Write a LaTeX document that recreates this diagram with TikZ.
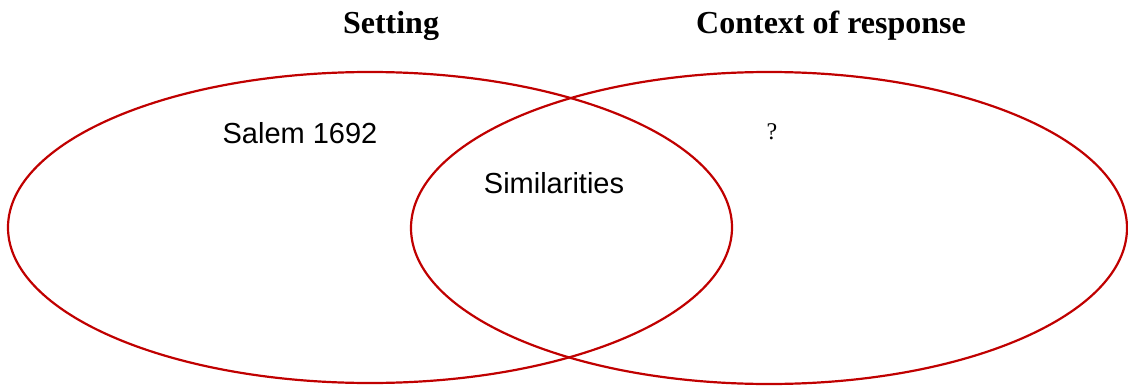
\documentclass[tikz,border=0pt]{standalone}
\usepackage{fontspec}
\setmainfont{Liberation Serif}
\setsansfont{Liberation Sans}
\begin{document}
\begin{tikzpicture}[x=1pt,y=-1pt,
  venn/.style={draw=vennred,line width=2.2pt},
  title/.style={font=\fontsize{32}{36}\selectfont\bfseries,anchor=base},
  lbl/.style={font=\sffamily\fontsize{29}{32}\selectfont,anchor=base}]
\definecolor{vennred}{HTML}{C00000}
\useasboundingbox (0,0) rectangle (1128,388);
\draw[venn] (370,227.5) ellipse [x radius=362, y radius=155.5];
\draw[venn] (769,228) ellipse [x radius=358, y radius=156];
\node[title] (setting) at (391,33) {Setting};
\node[title] (context) at (831,33) {Context of response};
\node[lbl] (salem) at (300,143) {Salem 1692};
\node[lbl] (sim) at (554,193) {Similarities};
\node[font=\fontsize{24}{28}\selectfont,anchor=base] (q) at (772,139) {?};
\end{tikzpicture}
\end{document}
